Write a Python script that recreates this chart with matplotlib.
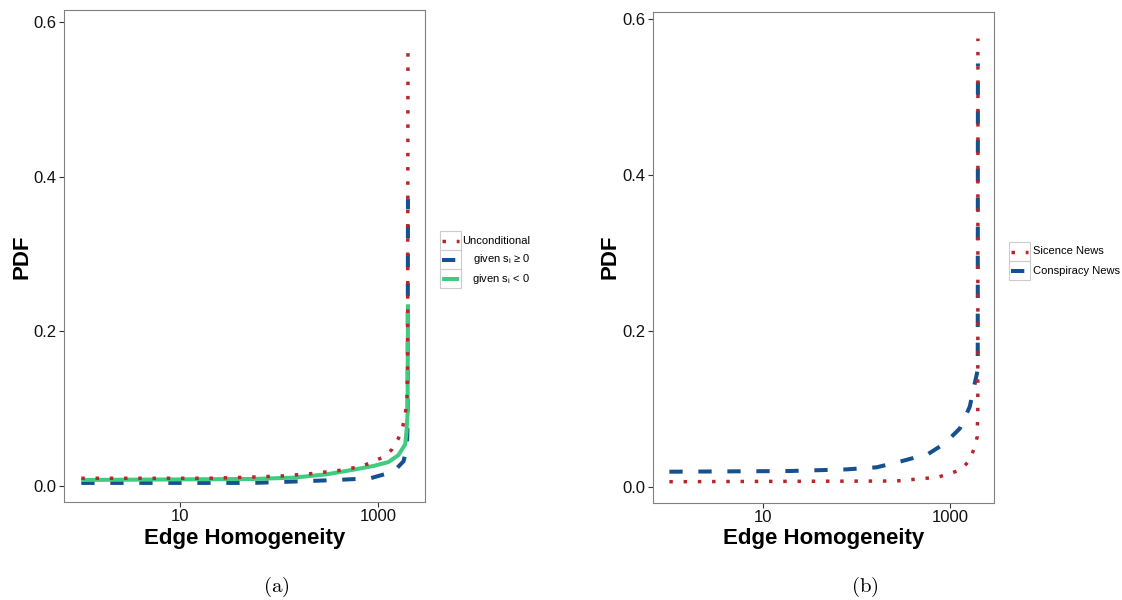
import matplotlib
matplotlib.use("Agg")
import matplotlib.pyplot as plt
from matplotlib.patches import Rectangle
from matplotlib.lines import Line2D

plt.rcParams["font.family"] = ["Liberation Sans", "DejaVu Sans"]
plt.rcParams["mathtext.default"] = "regular"

# ---- panel (a): edge homogeneity PDFs, all edges and by sign of s_i ----
uncond_x = [1, 20, 55, 106, 206, 388, 684, 1132, 1384, 1603, 1775, 1875, 1950, 1985, 2000]
uncond_y = [0.010, 0.010, 0.0116, 0.0129, 0.0159, 0.0198, 0.0254, 0.0375, 0.0474,
            0.0617, 0.0776, 0.0927, 0.110, 0.158, 0.572]

pos_x = [1, 55, 206, 383, 832, 1430, 1804, 1948, 1985, 2000]
pos_y = [0.004, 0.004, 0.0065, 0.0078, 0.010, 0.0185, 0.032, 0.050, 0.080, 0.371]

neg_x = [1, 55, 140, 302, 563, 897, 1271, 1603, 1875, 1933, 1980, 2000]
neg_y = [0.0078, 0.0091, 0.0108, 0.0151, 0.0211, 0.0259, 0.031, 0.040, 0.054,
         0.071, 0.093, 0.235]

# ---- panel (b): science vs conspiracy news ----
sci_x = [1, 269, 389, 541, 750, 1000, 1333, 1610, 1806, 1963, 1995, 2000]
sci_y = [0.0068, 0.0077, 0.0095, 0.011, 0.0128, 0.017, 0.0227, 0.0337, 0.048,
         0.064, 0.10, 0.575]

con_x = [1, 19.4, 78.5, 164, 292, 586, 885, 1280, 1636, 1850, 1990, 2000]
con_y = [0.0196, 0.0205, 0.0226, 0.0252, 0.0325, 0.0423, 0.056, 0.075, 0.103,
         0.133, 0.150, 0.543]

x_ticks = [10, 1000]
x_tick_labels = ["10", "1000"]
y_ticks = [0.0, 0.2, 0.4, 0.6]
y_tick_labels = ["0.0", "0.2", "0.4", "0.6"]

legend_a = ["Unconditional", r"given s$_i$ ≥ 0", r"given s$_i$ < 0"]
legend_b = ["Sicence News", "Conspiracy News"]

RED = "#b8252b"
BLUE = "#16508f"
GREEN = "#3fcc80"

dot_style = dict(color=RED, lw=2.5, dashes=(1, 3.1), dash_capstyle="butt")
dash_style = dict(color=BLUE, lw=2.9, dashes=(3.3, 3.9), dash_capstyle="butt")
solid_style = dict(color=GREEN, lw=2.9, solid_capstyle="butt")

W, H = 1122, 600
fig = plt.figure(figsize=(W / 100, H / 100), dpi=100)
fig.patch.set_facecolor("white")

# overlay in pixel coordinates for labels, captions and legend keys
ov = fig.add_axes([0, 0, 1, 1])
ov.set_xlim(0, W)
ov.set_ylim(H, 0)
ov.axis("off")


def px_axes(l, r, t, b):
    return fig.add_axes([l / W, 1 - b / H, (r - l) / W, (b - t) / H])


def style_axes(ax, ylim):
    ax.set_xscale("log")
    ax.set_xlim(10 ** -0.175, 10 ** 3.473)
    ax.set_ylim(*ylim)
    ax.set_xticks(x_ticks)
    ax.set_xticklabels(x_tick_labels)
    ax.xaxis.set_minor_locator(plt.NullLocator())
    ax.set_yticks(y_ticks)
    ax.set_yticklabels(y_tick_labels)
    for s in ax.spines.values():
        s.set_color("#808080")
        s.set_linewidth(0.8)
    ax.tick_params(axis="both", which="major", direction="out", length=3.6,
                   width=0.8, color="#333333", labelsize=12, labelcolor="#111111")
    ax.tick_params(axis="x", pad=1.2)
    ax.tick_params(axis="y", pad=2.0)
    ax.set_facecolor("white")


# panel (a)
ax1 = px_axes(64, 425, 10, 502)
ax1.plot(pos_x, pos_y, **dash_style, zorder=2)
ax1.plot(neg_x, neg_y, **solid_style, zorder=3)
ax1.plot(uncond_x, uncond_y, **dot_style, zorder=4)
style_axes(ax1, (-0.0207, 0.6155))

# panel (b)
ax2 = px_axes(653, 994, 12, 503)
ax2.plot(con_x, con_y, **dash_style, zorder=2)
ax2.plot(sci_x, sci_y, **dot_style, zorder=3)
style_axes(ax2, (-0.0205, 0.609))

# axis titles
for cx in (244.5, 823.5):
    ov.text(cx, 544, "Edge Homogeneity", ha="center", va="baseline",
            fontsize=16, fontweight="bold", color="black")
for cx in (22, 610):
    ov.text(cx, 257, "PDF", ha="center", va="center", rotation=90,
            fontsize=16, fontweight="bold", color="black")

# captions
ov.text(276, 587, r"$\mathrm{(a)}$", ha="center", va="center", fontsize=15,
        math_fontfamily="cm")
ov.text(865, 587, r"$\mathrm{(b)}$", ha="center", va="center", fontsize=15,
        math_fontfamily="cm")


def legend_block(x0, y0, labels, styles, text_x, align):
    kw, kh = 21, 19
    for i, (lab, st) in enumerate(zip(labels, styles)):
        top = y0 + i * kh
        ov.add_patch(Rectangle((x0, top), kw, kh, fill=False,
                               edgecolor="#cccccc", lw=0.8))
        ov.add_line(Line2D([x0 + 2, x0 + kw - 2], [top + kh / 2, top + kh / 2], **st))
        ov.text(text_x, top + kh / 2, lab, ha=align, va="center",
                fontsize=8, color="black")


legend_block(440, 231, legend_a, [dot_style, dash_style, solid_style], 530, "right")
legend_block(1009, 242, legend_b, [dot_style, dash_style], 1033, "left")

fig.savefig("out.png", dpi=100, facecolor="white")
